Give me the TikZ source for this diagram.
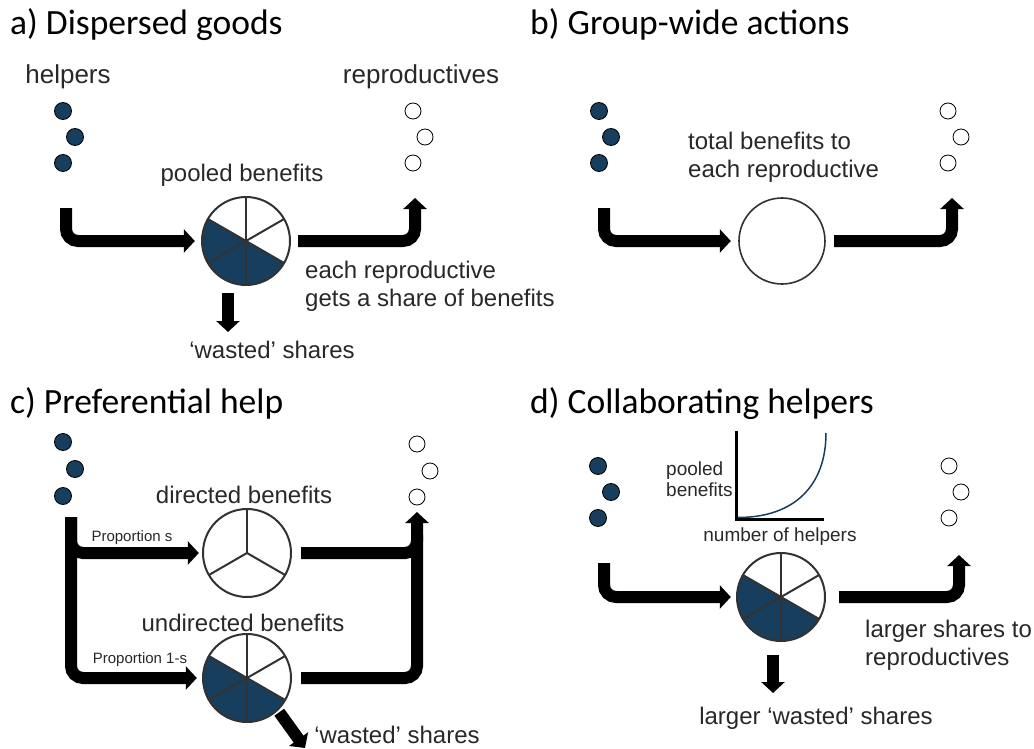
\documentclass[tikz,border=0pt]{standalone}
\usepackage{fontspec}
\setmainfont{Liberation Sans}
\newfontfamily\titlefont{Carlito}
\usetikzlibrary{arrows.meta}
\definecolor{navy}{RGB}{24,62,93}
\definecolor{ink}{RGB}{40,40,40}
\definecolor{rim}{RGB}{50,50,50}

\tikzset{
  flow/.style={line width=12pt, rounded corners=12pt, -{Triangle[length=11pt, width=23pt]}},
  flowbar/.style={line width=12pt, rounded corners=12pt},
  helper/.style={circle, fill=navy, draw=black, line width=0.8pt, minimum size=17pt, inner sep=0pt},
  repro/.style={circle, fill=white, draw=black, line width=0.8pt, minimum size=16pt, inner sep=0pt},
  paneltitle/.style={font=\titlefont\fontsize{35.5}{40}\selectfont, anchor=base west, inner sep=0pt},
  lbl/.style={font=\fontsize{24}{28}\selectfont, text=ink, inner sep=0pt},
  biglbl/.style={font=\fontsize{26}{30}\selectfont, text=ink, inner sep=0pt},
  midlbl/.style={font=\fontsize{19}{21}\selectfont, text=ink, inner sep=0pt},
  smalllbl/.style={font=\fontsize{15}{18}\selectfont, text=ink, inner sep=0pt},
  pienode/.style={circle, minimum size=88pt, inner sep=0pt},
  pics/sixpie/.style={code={
    \fill[navy] (0,0) -- (150:44pt) arc[start angle=150, end angle=330, radius=44pt] -- cycle;
    \foreach \a in {90,30,-30,-90,-150,150} \draw[rim, line width=2pt] (0,0) -- (\a:44pt);
    \draw[rim, line width=2pt] (0,0) circle[radius=44pt];
  }},
  pics/threepie/.style={code={
    \fill[white] (0,0) circle[radius=44pt];
    \foreach \a in {90,-30,210} \draw[rim, line width=2pt] (0,0) -- (\a:44pt);
    \draw[rim, line width=2pt] (0,0) circle[radius=44pt];
  }},
  pics/emptypie/.style={code={
    \draw[rim, line width=1.6pt, fill=white] (0,0) circle[radius=43pt];
  }},
}

\begin{document}
\begin{tikzpicture}[x=1pt, y=-1pt]
\useasboundingbox (0,0) rectangle (1034,749);

% ---------------- a) Dispersed goods ----------------
\node[paneltitle] (tA) at (10,35) {a) Dispersed goods};
\node[biglbl] (hlpA) at (68,77) {helpers};
\node[biglbl] (repA) at (421,77) {reproductives};
\node[helper] (hA1) at (63,111) {};
\node[helper] (hA2) at (75,137) {};
\node[helper] (hA3) at (63,163) {};
\node[repro] (rA1) at (413,111) {};
\node[repro] (rA2) at (425,137) {};
\node[repro] (rA3) at (413,163) {};
\node[lbl] (pbA) at (242,175) {pooled benefits};
\node[pienode] (pieA) at (246,241) {};
\pic at (pieA.center) {sixpie};
\coordinate (aIn) at (66,208);
\coordinate (aOut) at (415,198);
\coordinate (aW1) at (228,293);
\coordinate (aW2) at (228,332);
\draw[flow] (aIn) |- ([xshift=-7pt]pieA.west);
\draw[flow] ([xshift=8pt]pieA.east) -| (aOut);
\draw[flow] (aW1) -- (aW2);
\node[lbl, anchor=west, align=left] (shareA) at (305,286) {each reproductive\\gets a share of benefits};
\node[lbl] (wsA) at (272,350) {`wasted' shares};

% ---------------- b) Group-wide actions ----------------
\node[paneltitle] (tB) at (530,35) {b) Group-wide actions};
\node[helper] (hB1) at (599,111) {};
\node[helper] (hB2) at (611,137) {};
\node[helper] (hB3) at (599,163) {};
\node[repro] (rB1) at (948,111) {};
\node[repro] (rB2) at (961,137) {};
\node[repro] (rB3) at (948,163) {};
\node[lbl, anchor=west, align=left] (totB) at (688,157) {total benefits to\\each reproductive};
\node[pienode, minimum size=86pt] (pieB) at (782,241) {};
\pic at (pieB.center) {emptypie};
\coordinate (bIn) at (604,208);
\coordinate (bOut) at (952,198);
\draw[flow] (bIn) |- ([xshift=-8pt]pieB.west);
\draw[flow] ([xshift=9pt]pieB.east) -| (bOut);

% ---------------- c) Preferential help ----------------
\node[paneltitle] (tC) at (10,413) {c) Preferential help};
\node[helper] (hC1) at (63,442) {};
\node[helper] (hC2) at (75,469) {};
\node[helper] (hC3) at (63,496) {};
\node[repro] (rC1) at (417,444) {};
\node[repro] (rC2) at (430,471) {};
\node[repro] (rC3) at (417,497) {};
\node[lbl] (dbC) at (244,495) {directed benefits};
\node[lbl] (ubC) at (243,623) {undirected benefits};
\node[pienode] (pieC1) at (247,553) {};
\pic at (pieC1.center) {threepie};
\node[pienode] (pieC2) at (247,678) {};
\pic at (pieC2.center) {sixpie};
\coordinate (cIn) at (71,517);
\coordinate (cOut) at (417,512);
\coordinate (cJoin) at (417,535);
\coordinate (cW) at (305,748);
\draw[flow] (cIn) |- ([xshift=-4pt]pieC1.west);
\draw[flow] (cIn) |- ([xshift=-6pt]pieC2.west);
\draw[flowbar] ([xshift=10pt]pieC1.east) -| (cJoin);
\draw[flow] ([xshift=10pt]pieC2.east) -| (cOut);
\draw[flow] ([xshift=1pt,yshift=-3pt]pieC2.south east) -- (cW);
\node[smalllbl] (psC) at (132,538) {Proportion s};
\node[smalllbl] (p1C) at (140,660) {Proportion 1-s};
\node[lbl] (wsC) at (397,735) {`wasted' shares};

% ---------------- d) Collaborating helpers ----------------
\node[paneltitle] (tD) at (530,413) {d) Collaborating helpers};
\node[helper] (hD1) at (598,466) {};
\node[helper] (hD2) at (611,492) {};
\node[helper] (hD3) at (598,518) {};
\node[repro] (rD1) at (949,466) {};
\node[repro] (rD2) at (961,492) {};
\node[repro] (rD3) at (949,518) {};
% inset graph: pooled benefits against number of helpers
\coordinate (gTop) at (736,431);
\coordinate (gO) at (736,519);
\coordinate (gRight) at (824,519);
\draw[line width=3pt, line join=miter] (gTop) -- (gO) -- (gRight);
\draw[navy, line width=1.5pt] (738,517.5) .. controls (795,517.5) and (826,485) .. (826,433);
\node[midlbl, anchor=west, align=left] (pbD) at (666,479) {pooled\\benefits};
\node[midlbl] (nhD) at (780,537) {number of helpers};
\node[pienode] (pieD) at (781,597) {};
\pic at (pieD.center) {sixpie};
\coordinate (dIn) at (604,563);
\coordinate (dOut) at (959,555);
\coordinate (dW1) at (773,655);
\coordinate (dW2) at (773,693);
\draw[flow] (dIn) |- ([xshift=-6pt]pieD.west);
\draw[flow] ([xshift=14pt]pieD.east) -| (dOut);
\draw[flow] (dW1) -- (dW2);
\node[lbl, anchor=west, align=left] (lsD) at (865,645) {larger shares to\\reproductives};
\node[lbl] (wsD) at (816,718) {larger `wasted' shares};
\end{tikzpicture}
\end{document}
